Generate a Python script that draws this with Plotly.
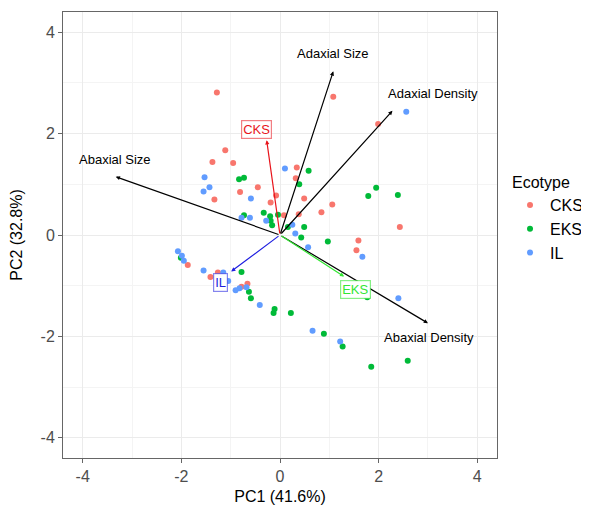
import plotly.graph_objects as go

# ---- data ----
cks_x = [-1.28, -1.11, -1.37, -0.95, 0.34, 0.32, -0.45, -0.81, -0.08, -1.33, -0.19, 0.08, 1.08, 1.99,
         0.49, 1.06, 0.84, 0.38, 2.43, 1.59, 1.55, -1.87, -1.26, -1.41, -0.78, -0.66]
cks_y = [2.81, 1.67, 1.44, 1.42, 1.33, 1.12, 0.94, 0.85, 0.78, 0.70, 0.64, 0.39, 2.73, 2.19,
         0.72, 0.60, 0.45, 0.41, 0.16, -0.11, -0.30, -0.59, -0.74, -0.83, -1.02, -0.96]

eks_x = [-0.83, -0.73, -0.33, -0.73, -0.20, -0.19, -0.16, -0.04, 0.39, 0.58, 1.95, 1.79, 2.39, 0.49,
         0.16, 0.43, 0.97, 1.77, 0.22, 0.89, 1.27, 1.85, 2.59, -2.01, -0.78, -0.63, -0.59, -0.11, -0.13]
eks_y = [1.10, 1.13, 0.44, 0.39, 0.37, 0.28, 0.19, 0.40, 1.00, 1.27, 0.93, 0.77, 0.79, 0.16,
         0.16, -0.05, -0.13, -1.23, -1.54, -1.95, -2.20, -2.60, -2.48, -0.45, -0.73, -1.12, -1.25, -1.46, -1.54]

il_x = [0.10, -1.53, -1.43, -1.55, -0.59, -0.78, -0.61, -0.28, 0.25, 0.31, 2.56, 0.57, 1.67, 2.40,
        0.66, 1.22, -2.07, -1.99, -1.95, -1.55, -1.15, -1.05, -0.68, -0.82, -0.90, -0.41]
il_y = [1.31, 1.14, 0.94, 0.86, 0.72, 0.34, 0.34, 0.28, 0.20, 0.03, 2.43, -0.24, -0.43, -1.25,
        -1.89, -2.10, -0.32, -0.41, -0.51, -0.70, -0.74, -0.91, -1.03, -1.05, -1.09, -1.38]

var_names = ["Abaxial Size", "Adaxial Size", "Adaxial Density", "Abaxial Density"]
var_x = [-3.33, 1.08, 2.28, 3.00]
var_y = [1.15, 3.23, 2.45, -1.74]
var_lab_x = [-3.35, 1.08, 3.10, 3.02]
var_lab_y = [1.48, 3.59, 2.80, -2.02]

grp_names = ["CKS", "EKS", "IL"]
grp_x = [-0.27, 1.30, -0.99]
grp_y = [1.87, -0.82, -0.72]
grp_lab_x = [-0.48, 1.54, -1.21]
grp_lab_y = [2.08, -1.07, -0.93]

tick_vals = [-4, -2, 0, 2, 4]
tick_text = ["-4", "-2", "0", "2", "4"]

# ---- styles ----
pt_colors = {"CKS": "#F8766D", "EKS": "#00BA38", "IL": "#619CFF"}
arrow_colors = {"CKS": "#E8141B", "EKS": "#33E633", "IL": "#1F1FE0"}
box_colors = {"CKS": "rgba(232,20,27,0.55)", "EKS": "rgba(51,230,51,0.6)", "IL": "rgba(31,31,224,0.55)"}
FONT = "Arial, Liberation Sans, sans-serif"

fig = go.Figure()
for name, xs, ys in [("CKS", cks_x, cks_y), ("EKS", eks_x, eks_y), ("IL", il_x, il_y)]:
    fig.add_trace(go.Scatter(x=xs, y=ys, mode="markers", name=name,
                             marker=dict(color=pt_colors[name], size=6, line=dict(width=0))))

annotations = []
for n, x, y, lx, ly in zip(var_names, var_x, var_y, var_lab_x, var_lab_y):
    annotations.append(dict(x=x, y=y, ax=0, ay=0, xref="x", yref="y", axref="x", ayref="y",
                            text="", showarrow=True, arrowhead=2, arrowsize=0.7, arrowwidth=1.2,
                            arrowcolor="black"))
    annotations.append(dict(x=lx, y=ly, xref="x", yref="y", text=n, showarrow=False,
                            font=dict(family=FONT, size=13, color="black")))
for n, x, y, lx, ly in zip(grp_names, grp_x, grp_y, grp_lab_x, grp_lab_y):
    c = arrow_colors[n]
    annotations.append(dict(x=x, y=y, ax=0, ay=0, xref="x", yref="y", axref="x", ayref="y",
                            text="", showarrow=True, arrowhead=2, arrowsize=0.7, arrowwidth=1.2,
                            arrowcolor=c))
    annotations.append(dict(x=lx, y=ly, xref="x", yref="y", text=n, showarrow=False,
                            font=dict(family=FONT, size=13, color=c),
                            bgcolor="white", bordercolor=box_colors[n], borderwidth=1.2, borderpad=1))

axis_common = dict(range=[-4.4, 4.4], tickvals=tick_vals, ticktext=tick_text, showgrid=True,
                   gridcolor="#EBEBEB", gridwidth=1, zeroline=False, showline=True, mirror=True,
                   linecolor="#666666", linewidth=1, ticks="outside", ticklen=4, tickcolor="#666666",
                   automargin=False,
                   tickfont=dict(family=FONT, size=16, color="#4D4D4D"),
                   minor=dict(tickvals=[-3, -1, 1, 3], showgrid=True, gridcolor="#F4F4F4",
                              gridwidth=1, ticks=""))

# the page body has an 8px margin, so the figure is 8px smaller than the window
fig.update_layout(
    width=581, height=503,
    margin=dict(l=55, r=92, t=4, b=53, autoexpand=False),
    plot_bgcolor="white", paper_bgcolor="white",
    font=dict(family=FONT),
    xaxis=dict(axis_common, title=dict(text="PC1 (41.6%)", font=dict(size=16, color="black"), standoff=6)),
    yaxis=dict(axis_common, title=dict(text="PC2 (32.8%)", font=dict(size=16, color="black"), standoff=13)),
    legend=dict(title=dict(text="Ecotype", font=dict(size=16, color="black")),
                font=dict(size=16, color="black"), x=1.03, xanchor="left", y=0.652, yanchor="top",
                itemwidth=30, tracegroupgap=0),
    annotations=annotations,
    showlegend=True,
)

fig.write_html("out.html")
